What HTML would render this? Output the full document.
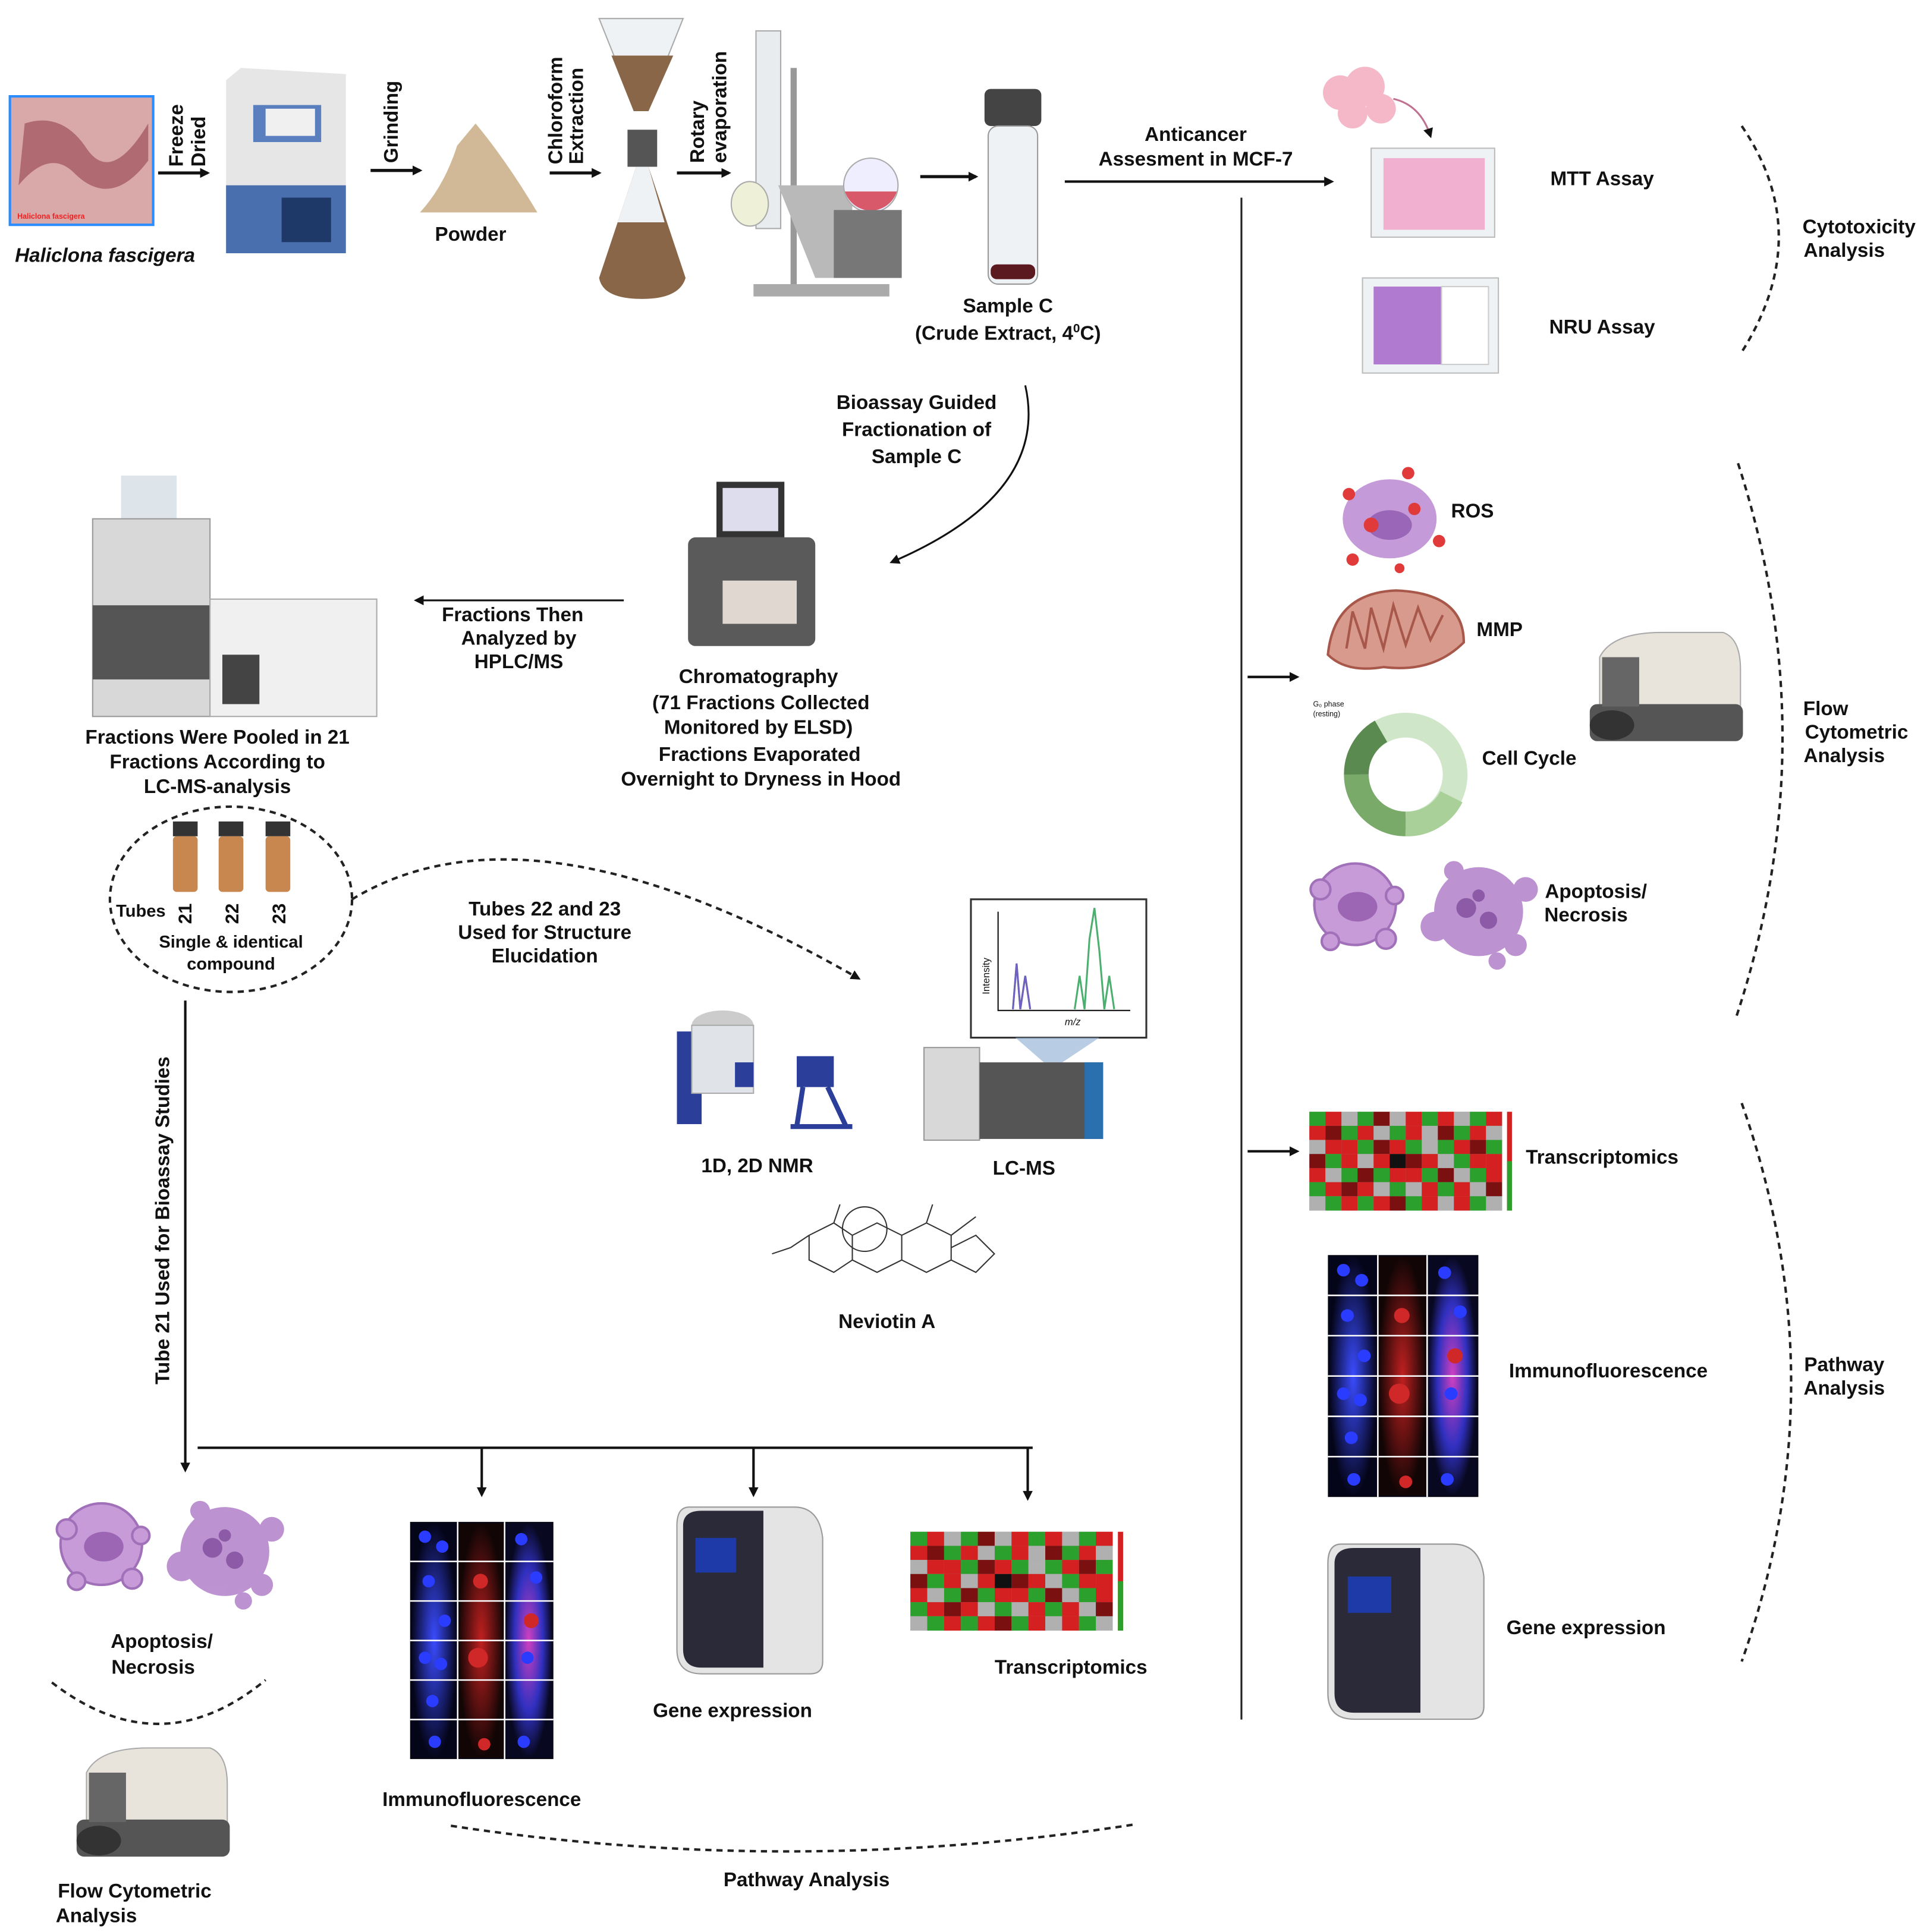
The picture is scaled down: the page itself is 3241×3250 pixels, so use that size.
<!DOCTYPE html>
<html><head><meta charset="utf-8"><style>
html,body{margin:0;padding:0;background:#fff;}
svg{display:block;}
text{font-family:"Liberation Sans",sans-serif;font-weight:bold;font-size:16px;fill:#111;}
</style></head><body>
<svg width="3241" height="3250" viewBox="0 0 1560 1564" preserveAspectRatio="none" xmlns="http://www.w3.org/2000/svg">
<defs>
<marker id="ah" markerWidth="8" markerHeight="8" refX="6" refY="4" orient="auto" markerUnits="userSpaceOnUse"><path d="M0,0 L8,4 L0,8 Z" fill="#111"/></marker>
<g id="heat">
<rect x="0" y="0" width="156" height="80" fill="#999"/>
<g id="hr1"><rect x="0" y="0" width="13" height="11.4" fill="#2ca02c"/><rect x="13" y="0" width="13" height="11.4" fill="#d42020"/><rect x="26" y="0" width="13" height="11.4" fill="#b0b0b0"/><rect x="39" y="0" width="13" height="11.4" fill="#2ca02c"/><rect x="52" y="0" width="13" height="11.4" fill="#7a1010"/><rect x="65" y="0" width="13" height="11.4" fill="#b0b0b0"/><rect x="78" y="0" width="13" height="11.4" fill="#d42020"/><rect x="91" y="0" width="13" height="11.4" fill="#2ca02c"/><rect x="104" y="0" width="13" height="11.4" fill="#d42020"/><rect x="117" y="0" width="13" height="11.4" fill="#b0b0b0"/><rect x="130" y="0" width="13" height="11.4" fill="#2ca02c"/><rect x="143" y="0" width="13" height="11.4" fill="#d42020"/></g>
<g transform="translate(0,11.4)"><rect x="0" width="13" height="11.4" fill="#d42020"/><rect x="13" width="13" height="11.4" fill="#7a1010"/><rect x="26" width="13" height="11.4" fill="#2ca02c"/><rect x="39" width="13" height="11.4" fill="#d42020"/><rect x="52" width="13" height="11.4" fill="#b0b0b0"/><rect x="65" width="13" height="11.4" fill="#2ca02c"/><rect x="78" width="13" height="11.4" fill="#d42020"/><rect x="91" width="13" height="11.4" fill="#b0b0b0"/><rect x="104" width="13" height="11.4" fill="#7a1010"/><rect x="117" width="13" height="11.4" fill="#2ca02c"/><rect x="130" width="13" height="11.4" fill="#d42020"/><rect x="143" width="13" height="11.4" fill="#b0b0b0"/></g>
<g transform="translate(0,22.8)"><rect x="0" width="13" height="11.4" fill="#b0b0b0"/><rect x="13" width="13" height="11.4" fill="#d42020"/><rect x="26" width="13" height="11.4" fill="#d42020"/><rect x="39" width="13" height="11.4" fill="#2ca02c"/><rect x="52" width="13" height="11.4" fill="#7a1010"/><rect x="65" width="13" height="11.4" fill="#d42020"/><rect x="78" width="13" height="11.4" fill="#2ca02c"/><rect x="91" width="13" height="11.4" fill="#b0b0b0"/><rect x="104" width="13" height="11.4" fill="#2ca02c"/><rect x="117" width="13" height="11.4" fill="#d42020"/><rect x="130" width="13" height="11.4" fill="#7a1010"/><rect x="143" width="13" height="11.4" fill="#2ca02c"/></g>
<g transform="translate(0,34.2)"><rect x="0" width="13" height="11.4" fill="#7a1010"/><rect x="13" width="13" height="11.4" fill="#2ca02c"/><rect x="26" width="13" height="11.4" fill="#d42020"/><rect x="39" width="13" height="11.4" fill="#b0b0b0"/><rect x="52" width="13" height="11.4" fill="#d42020"/><rect x="65" width="13" height="11.4" fill="#111"/><rect x="78" width="13" height="11.4" fill="#7a1010"/><rect x="91" width="13" height="11.4" fill="#d42020"/><rect x="104" width="13" height="11.4" fill="#b0b0b0"/><rect x="117" width="13" height="11.4" fill="#2ca02c"/><rect x="130" width="13" height="11.4" fill="#d42020"/><rect x="143" width="13" height="11.4" fill="#d42020"/></g>
<g transform="translate(0,45.6)"><rect x="0" width="13" height="11.4" fill="#d42020"/><rect x="13" width="13" height="11.4" fill="#b0b0b0"/><rect x="26" width="13" height="11.4" fill="#2ca02c"/><rect x="39" width="13" height="11.4" fill="#7a1010"/><rect x="52" width="13" height="11.4" fill="#2ca02c"/><rect x="65" width="13" height="11.4" fill="#d42020"/><rect x="78" width="13" height="11.4" fill="#d42020"/><rect x="91" width="13" height="11.4" fill="#2ca02c"/><rect x="104" width="13" height="11.4" fill="#7a1010"/><rect x="117" width="13" height="11.4" fill="#b0b0b0"/><rect x="130" width="13" height="11.4" fill="#2ca02c"/><rect x="143" width="13" height="11.4" fill="#d42020"/></g>
<g transform="translate(0,57)"><rect x="0" width="13" height="11.4" fill="#2ca02c"/><rect x="13" width="13" height="11.4" fill="#d42020"/><rect x="26" width="13" height="11.4" fill="#7a1010"/><rect x="39" width="13" height="11.4" fill="#d42020"/><rect x="52" width="13" height="11.4" fill="#b0b0b0"/><rect x="65" width="13" height="11.4" fill="#2ca02c"/><rect x="78" width="13" height="11.4" fill="#b0b0b0"/><rect x="91" width="13" height="11.4" fill="#d42020"/><rect x="104" width="13" height="11.4" fill="#2ca02c"/><rect x="117" width="13" height="11.4" fill="#d42020"/><rect x="130" width="13" height="11.4" fill="#b0b0b0"/><rect x="143" width="13" height="11.4" fill="#7a1010"/></g>
<g transform="translate(0,68.4)"><rect x="0" width="13" height="11.6" fill="#b0b0b0"/><rect x="13" width="13" height="11.6" fill="#2ca02c"/><rect x="26" width="13" height="11.6" fill="#d42020"/><rect x="39" width="13" height="11.6" fill="#2ca02c"/><rect x="52" width="13" height="11.6" fill="#d42020"/><rect x="65" width="13" height="11.6" fill="#7a1010"/><rect x="78" width="13" height="11.6" fill="#2ca02c"/><rect x="91" width="13" height="11.6" fill="#d42020"/><rect x="104" width="13" height="11.6" fill="#b0b0b0"/><rect x="117" width="13" height="11.6" fill="#d42020"/><rect x="130" width="13" height="11.6" fill="#2ca02c"/><rect x="143" width="13" height="11.6" fill="#b0b0b0"/></g>
<rect x="160" y="0" width="4" height="80" fill="#d42020"/><rect x="160" y="40" width="4" height="40" fill="#2ca02c"/>
</g>
<radialGradient id="bl"><stop offset="0" stop-color="#3a4cff"/><stop offset="1" stop-color="#05051a"/></radialGradient>
<radialGradient id="rd"><stop offset="0" stop-color="#c02020"/><stop offset="1" stop-color="#120505"/></radialGradient>
<radialGradient id="mg"><stop offset="0" stop-color="#d040c0"/><stop offset="0.6" stop-color="#3030c0"/><stop offset="1" stop-color="#080820"/></radialGradient>
<g id="immuno">
<rect x="0" y="0" width="116" height="192" fill="#070714"/>
<rect x="1" y="1" width="37" height="190" fill="url(#bl)"/>
<rect x="39" y="1" width="37" height="190" fill="url(#rd)"/>
<rect x="77" y="1" width="38" height="190" fill="url(#mg)"/>
<g stroke="#fff" stroke-width="1.2"><line x1="0" y1="32" x2="116" y2="32"/><line x1="0" y1="64" x2="116" y2="64"/><line x1="0" y1="96" x2="116" y2="96"/><line x1="0" y1="128" x2="116" y2="128"/><line x1="0" y1="160" x2="116" y2="160"/><line x1="38.5" y1="0" x2="38.5" y2="192"/><line x1="76.5" y1="0" x2="76.5" y2="192"/></g>
<g fill="#2a3cff"><circle cx="12" cy="12" r="5"/><circle cx="26" cy="20" r="5"/><circle cx="15" cy="48" r="5"/><circle cx="28" cy="80" r="5"/><circle cx="12" cy="110" r="5"/><circle cx="25" cy="115" r="5"/><circle cx="18" cy="145" r="5"/><circle cx="20" cy="178" r="5"/><circle cx="90" cy="14" r="5"/><circle cx="102" cy="45" r="5"/><circle cx="95" cy="110" r="5"/><circle cx="92" cy="178" r="5"/></g>
<g fill="#d02828"><circle cx="57" cy="48" r="6"/><circle cx="55" cy="110" r="8"/><circle cx="60" cy="180" r="5"/><circle cx="98" cy="80" r="6"/></g>
</g>
<g id="gene">
<path d="M10,0 L95,0 Q115,0 118,25 L118,125 Q118,135 108,135 L20,135 Q0,135 0,115 L0,15 Q0,0 10,0 Z" fill="#e4e4e4" stroke="#999"/>
<path d="M5,15 Q5,3 20,3 L70,3 L70,130 L20,130 Q5,130 5,115 Z" fill="#2a2a38"/>
<rect x="15" y="25" width="33" height="28" fill="#1d3aa8"/>
</g>
<g id="flowc">
<path d="M10,20 Q20,0 60,0 L110,0 Q124,5 124,30 L124,75 L10,75 Z" fill="#e8e4dc" stroke="#aaa"/>
<rect x="2" y="58" width="124" height="30" rx="6" fill="#555"/>
<rect x="12" y="20" width="30" height="40" fill="#666"/>
<ellipse cx="20" cy="75" rx="18" ry="12" fill="#333"/>
</g>
<g id="apop">
<g fill="#c79ad8" stroke="#a070b8" stroke-width="2"><circle cx="40" cy="42" r="33"/><circle cx="12" cy="30" r="8"/><circle cx="65" cy="70" r="8"/><circle cx="20" cy="72" r="7"/><circle cx="72" cy="35" r="7"/></g>
<ellipse cx="42" cy="44" rx="16" ry="12" fill="#9c66b4"/>
<g fill="#b687cc" opacity="0.9"><circle cx="140" cy="48" r="36"/><circle cx="105" cy="60" r="12"/><circle cx="178" cy="30" r="10"/><circle cx="170" cy="75" r="9"/><circle cx="120" cy="15" r="8"/><circle cx="155" cy="88" r="7"/></g>
<g fill="#8c5aa6"><circle cx="130" cy="45" r="8"/><circle cx="148" cy="55" r="7"/><circle cx="140" cy="35" r="5"/></g>
</g>
</defs>

<!-- Top row -->
<rect x="8" y="78" width="116" height="104" fill="#d9a8a8" stroke="#2a8cff" stroke-width="2"/>
<path d="M20,100 Q50,90 70,120 Q90,150 120,100 L120,130 Q90,170 60,140 Q40,120 15,150 Z" fill="#b06a72"/>
<text x="14" y="177" style="font-size:6px;fill:#e22">Haliclona fascigera</text>
<text x="85" y="212" text-anchor="middle" style="font-style:italic">Haliclona fascigera</text>
<line x1="128" y1="140" x2="168" y2="140" stroke="#111" stroke-width="2.5" marker-end="url(#ah)"/>
<text transform="translate(148,135) rotate(-90)">Freeze</text>
<text transform="translate(166,135) rotate(-90)">Dried</text>
<path d="M183,65 L195,55 L280,60 L280,205 L190,205 L183,195 Z" fill="#e6e6e6"/>
<rect x="183" y="150" width="97" height="55" fill="#4a6fae"/>
<rect x="205" y="85" width="55" height="30" fill="#5a7fbf"/><rect x="215" y="88" width="40" height="22" fill="#f0f0f0"/>
<rect x="228" y="160" width="40" height="36" fill="#1e3868"/>
<line x1="300" y1="138" x2="340" y2="138" stroke="#111" stroke-width="2.5" marker-end="url(#ah)"/>
<text transform="translate(322,132) rotate(-90)">Grinding</text>
<path d="M340,172 Q360,150 370,118 L385,100 Q410,130 435,172 Z" fill="#d1b896"/>
<text x="381" y="195" text-anchor="middle">Powder</text>
<line x1="445" y1="140" x2="485" y2="140" stroke="#111" stroke-width="2.5" marker-end="url(#ah)"/>
<text transform="translate(455,133) rotate(-90)">Chloroform</text>
<text transform="translate(472,133) rotate(-90)">Extraction</text>
<path d="M485,15 L553,15 L525,85 L513,85 Z" fill="#eef2f4" stroke="#aaa"/>
<path d="M495,45 L545,45 L525,90 L513,90 Z" fill="#8a6648"/>
<rect x="508" y="105" width="24" height="30" fill="#555"/>
<path d="M515,135 L525,135 L555,225 Q550,242 520,242 Q488,242 485,225 Z" fill="#8a6648"/>
<path d="M515,135 L525,135 L538,180 L500,180 Z" fill="#eef2f4"/>
<line x1="548" y1="140" x2="590" y2="140" stroke="#111" stroke-width="2.5" marker-end="url(#ah)"/>
<text transform="translate(570,132) rotate(-90)">Rotary</text>
<text transform="translate(588,132) rotate(-90)">evaporation</text>
<rect x="612" y="25" width="20" height="160" fill="#e8ecee" stroke="#aaa"/>
<rect x="640" y="55" width="5" height="180" fill="#999"/>
<path d="M630,150 L690,150 L690,225 L660,225 Z" fill="#b9b9b9"/>
<circle cx="705" cy="150" r="22" fill="#eef" stroke="#aaa"/><path d="M684,155 A22,22 0 0 0 726,155 Z" fill="#d85a6a"/>
<rect x="675" y="170" width="55" height="55" fill="#777"/>
<ellipse cx="607" cy="165" rx="15" ry="18" fill="#eef0d8" stroke="#aaa"/>
<rect x="610" y="230" width="110" height="10" fill="#aaa"/>
<line x1="745" y1="143" x2="790" y2="143" stroke="#111" stroke-width="2.5" marker-end="url(#ah)"/>
<rect x="797" y="72" width="46" height="30" rx="5" fill="#444"/>
<rect x="800" y="102" width="40" height="128" rx="8" fill="#eef2f5" stroke="#999"/>
<rect x="802" y="214" width="36" height="12" rx="5" fill="#5a1a20"/>
<text x="816" y="253" text-anchor="middle">Sample C</text>
<text x="816" y="275" text-anchor="middle">(Crude Extract, 4<tspan dy="-6" style="font-size:10px">0</tspan><tspan dy="6">C)</tspan></text>
<text x="968" y="114" text-anchor="middle">Anticancer</text>
<text x="968" y="134" text-anchor="middle">Assesment in MCF-7</text>
<line x1="862" y1="147" x2="1078" y2="147" stroke="#111" stroke-width="2" marker-end="url(#ah)"/>
<line x1="1005" y1="160" x2="1005" y2="1392" stroke="#222" stroke-width="1.5"/>

<!-- cytotox -->
<g fill="#f5b8c8"><circle cx="1085" cy="75" r="14"/><circle cx="1105" cy="70" r="16"/><circle cx="1118" cy="88" r="12"/><circle cx="1095" cy="92" r="12"/></g>
<path d="M1128,80 Q1150,85 1158,110" fill="none" stroke="#c07090" stroke-width="1.5" marker-end="url(#ah)"/>
<rect x="1110" y="120" width="100" height="72" fill="#eef2f4" stroke="#bbb"/>
<rect x="1120" y="128" width="82" height="58" fill="#f2b0d0"/>
<rect x="1103" y="225" width="110" height="77" fill="#eef2f4" stroke="#bbb"/>
<rect x="1112" y="232" width="55" height="63" fill="#b07ad0"/><rect x="1167" y="232" width="38" height="63" fill="#ffffff" stroke="#ccc"/>
<text x="1297" y="150" text-anchor="middle">MTT Assay</text>
<text x="1297" y="270" text-anchor="middle">NRU Assay</text>
<path d="M1410,102 Q1470,190 1410,285" fill="none" stroke="#222" stroke-width="2" stroke-dasharray="5,4"/>
<text x="1505" y="189" text-anchor="middle">Cytotoxicity</text>
<text x="1493" y="208" text-anchor="middle">Analysis</text>

<!-- bioassay -->
<text x="742" y="331" text-anchor="middle">Bioassay Guided</text>
<text x="742" y="353" text-anchor="middle">Fractionation of</text>
<text x="742" y="375" text-anchor="middle">Sample C</text>
<path d="M830,312 Q850,400 722,455" fill="none" stroke="#111" stroke-width="1.5" marker-end="url(#ah)"/>
<rect x="580" y="390" width="55" height="45" fill="#333"/><rect x="585" y="395" width="45" height="35" fill="#dde"/>
<rect x="557" y="435" width="103" height="88" rx="6" fill="#5a5a5a"/>
<rect x="585" y="470" width="60" height="35" fill="#e0d8d0"/>
<text x="614" y="553" text-anchor="middle">Chromatography</text>
<text x="616" y="574" text-anchor="middle">(71 Fractions Collected</text>
<text x="614" y="594" text-anchor="middle">Monitored by ELSD)</text>
<text x="615" y="616" text-anchor="middle">Fractions Evaporated</text>
<text x="616" y="636" text-anchor="middle">Overnight to Dryness in Hood</text>
<line x1="505" y1="486" x2="337" y2="486" stroke="#111" stroke-width="1.5" marker-end="url(#ah)"/>
<text x="415" y="503" text-anchor="middle">Fractions Then</text>
<text x="420" y="522" text-anchor="middle">Analyzed by</text>
<text x="420" y="541" text-anchor="middle">HPLC/MS</text>
<!-- HPLC -->
<rect x="98" y="385" width="45" height="35" fill="#dde4ea"/>
<rect x="75" y="420" width="95" height="160" fill="#d8d8d8" stroke="#999"/>
<rect x="75" y="490" width="95" height="60" fill="#555"/>
<rect x="170" y="485" width="135" height="95" fill="#f0f0f0" stroke="#aaa"/>
<rect x="180" y="530" width="30" height="40" fill="#444"/>
<text x="176" y="602" text-anchor="middle">Fractions Were Pooled in 21</text>
<text x="176" y="622" text-anchor="middle">Fractions According to</text>
<text x="176" y="642" text-anchor="middle">LC-MS-analysis</text>
<ellipse cx="187" cy="728" rx="98" ry="75" fill="none" stroke="#222" stroke-width="2" stroke-dasharray="5,4"/>
<g><rect x="140" y="665" width="20" height="12" fill="#333"/><rect x="140" y="677" width="20" height="45" rx="3" fill="#c8874e"/>
<rect x="177" y="665" width="20" height="12" fill="#333"/><rect x="177" y="677" width="20" height="45" rx="3" fill="#c8874e"/>
<rect x="215" y="665" width="20" height="12" fill="#333"/><rect x="215" y="677" width="20" height="45" rx="3" fill="#c8874e"/></g>
<text x="114" y="742" text-anchor="middle" style="font-size:14px">Tubes</text>
<text transform="translate(155,748) rotate(-90)" style="font-size:15px">21</text>
<text transform="translate(193,748) rotate(-90)" style="font-size:15px">22</text>
<text transform="translate(231,748) rotate(-90)" style="font-size:15px">23</text>
<text x="187" y="767" text-anchor="middle" style="font-size:14px">Single &amp; identical</text>
<text x="187" y="785" text-anchor="middle" style="font-size:14px">compound</text>
<path d="M285,728 Q430,640 695,792" fill="none" stroke="#222" stroke-width="2" stroke-dasharray="5,4" marker-end="url(#ah)"/>
<text x="441" y="741" text-anchor="middle">Tubes 22 and 23</text>
<text x="441" y="760" text-anchor="middle">Used for Structure</text>
<text x="441" y="779" text-anchor="middle">Elucidation</text>
<!-- NMR -->
<rect x="548" y="835" width="20" height="75" fill="#2a3e9a"/>
<ellipse cx="585" cy="830" rx="25" ry="12" fill="#ccc"/>
<rect x="560" y="830" width="50" height="55" fill="#e0e4e8" stroke="#aaa"/>
<rect x="595" y="860" width="15" height="20" fill="#2a3e9a"/>
<rect x="645" y="855" width="30" height="25" fill="#2a3e9a"/>
<path d="M650,880 L645,912 M670,880 L685,912 M640,912 L690,912" stroke="#2a3e9a" stroke-width="4" fill="none"/>
<text x="613" y="949" text-anchor="middle">1D, 2D NMR</text>
<!-- LC-MS -->
<rect x="786" y="728" width="142" height="112" fill="#fff" stroke="#333" stroke-width="1.5"/>
<path d="M808,738 L808,818 L915,818" fill="none" stroke="#111" stroke-width="1"/>
<path d="M820,817 L823,780 L826,817 L830,790 L834,817 M870,817 L874,790 L878,817 L882,760 L886,735 L890,770 L894,817 L898,790 L902,817" fill="none" stroke="#4caf70" stroke-width="1.5"/>
<path d="M820,817 L823,780 L826,817 L830,790 L834,817" fill="none" stroke="#7060c0" stroke-width="1.5"/>
<text transform="translate(801,805) rotate(-90)" style="font-size:8px;font-weight:normal">Intensity</text>
<text x="862" y="830" style="font-size:8px;font-style:italic;font-weight:normal">m/z</text>
<path d="M822,840 L890,840 L860,860 L845,860 Z" fill="#9ab8d8" opacity="0.7"/>
<rect x="748" y="848" width="45" height="75" fill="#d8d8d8" stroke="#999"/>
<rect x="793" y="860" width="100" height="62" fill="#555"/>
<rect x="878" y="860" width="15" height="62" fill="#2a6fae"/>
<text x="829" y="951" text-anchor="middle">LC-MS</text>
<!-- structure -->
<g fill="none" stroke="#333" stroke-width="1">
<path d="M655,1000 L675,990 L690,1000 L690,1020 L675,1030 L655,1020 Z M690,1000 L710,990 L730,1000 L730,1020 L710,1030 L690,1020 M730,1000 L750,990 L770,1000 L770,1020 L750,1030 L730,1020 M770,1010 L790,1000 L805,1015 L790,1030 L770,1020 M640,1010 L655,1000 M625,1015 L640,1010 M675,990 L680,975 M750,990 L755,975 M770,1000 L790,985"/>
<circle cx="700" cy="995" r="18"/>
</g>
<text x="718" y="1075" text-anchor="middle">Neviotin A</text>

<!-- Tube 21 branch -->
<line x1="150" y1="810" x2="150" y2="1190" stroke="#111" stroke-width="2" marker-end="url(#ah)"/>
<text transform="translate(137,988) rotate(-90)" text-anchor="middle">Tube 21 Used for Bioassay Studies</text>
<line x1="160" y1="1172" x2="836" y2="1172" stroke="#111" stroke-width="2"/>
<line x1="390" y1="1172" x2="390" y2="1210" stroke="#111" stroke-width="2" marker-end="url(#ah)"/>
<line x1="610" y1="1172" x2="610" y2="1210" stroke="#111" stroke-width="2" marker-end="url(#ah)"/>
<line x1="832" y1="1172" x2="832" y2="1213" stroke="#111" stroke-width="2" marker-end="url(#ah)"/>
<use href="#apop" transform="translate(42,1208)"/>
<text x="131" y="1334" text-anchor="middle">Apoptosis/</text>
<text x="124" y="1355" text-anchor="middle">Necrosis</text>
<path d="M42,1362 Q130,1430 215,1360" fill="none" stroke="#222" stroke-width="2" stroke-dasharray="5,4"/>
<use href="#flowc" transform="translate(60,1415)"/>
<text x="109" y="1536" text-anchor="middle">Flow Cytometric</text>
<text x="78" y="1556" text-anchor="middle">Analysis</text>
<use href="#immuno" transform="translate(332,1232)"/>
<text x="390" y="1462" text-anchor="middle">Immunofluorescence</text>
<use href="#gene" transform="translate(548,1220)"/>
<text x="593" y="1390" text-anchor="middle">Gene expression</text>
<use href="#heat" transform="translate(737,1240) scale(1.05,1.0)"/>
<text x="867" y="1355" text-anchor="middle">Transcriptomics</text>
<path d="M365,1478 Q640,1520 918,1477" fill="none" stroke="#222" stroke-width="2" stroke-dasharray="5,4"/>
<text x="653" y="1527" text-anchor="middle">Pathway Analysis</text>

<!-- Flow cytometric right -->
<g fill="#c49ad8"><ellipse cx="1125" cy="420" rx="38" ry="32"/></g>
<ellipse cx="1125" cy="425" rx="18" ry="12" fill="#9a66b8"/>
<g fill="#e03a3a"><circle cx="1092" cy="400" r="5"/><circle cx="1140" cy="383" r="5"/><circle cx="1165" cy="438" r="5"/><circle cx="1095" cy="453" r="5"/><circle cx="1133" cy="460" r="4"/><circle cx="1110" cy="425" r="6"/><circle cx="1145" cy="412" r="5"/></g>
<text x="1192" y="419" text-anchor="middle">ROS</text>
<path d="M1075,530 Q1080,480 1130,478 Q1185,480 1185,520 Q1160,545 1120,540 Q1090,545 1075,530 Z" fill="#d89a8c" stroke="#a8584a" stroke-width="2"/>
<path d="M1090,525 L1095,495 L1105,525 L1110,492 L1120,525 L1128,490 L1138,522 L1148,492 L1158,518 L1168,498" fill="none" stroke="#a8584a" stroke-width="2"/>
<text x="1214" y="515" text-anchor="middle">MMP</text>
<line x1="1010" y1="548" x2="1050" y2="548" stroke="#111" stroke-width="2" marker-end="url(#ah)"/>
<circle cx="1138" cy="627" r="40" fill="none" stroke="#cfe6c8" stroke-width="20"/>
<path d="M1098,627 A40,40 0 0 1 1118,592" fill="none" stroke="#5a8a50" stroke-width="20"/>
<path d="M1098,627 A40,40 0 0 0 1138,667" fill="none" stroke="#7aaa6a" stroke-width="20"/>
<path d="M1138,667 A40,40 0 0 0 1175,645" fill="none" stroke="#a8d098" stroke-width="20"/>
<text x="1063" y="572" style="font-size:6px;font-weight:normal">G₀ phase</text>
<text x="1063" y="580" style="font-size:6px;font-weight:normal">(resting)</text>
<text x="1238" y="619" text-anchor="middle">Cell Cycle</text>
<use href="#flowc" transform="translate(1285,512)"/>
<use href="#apop" transform="translate(1057,690)"/>
<text x="1292" y="727" text-anchor="middle">Apoptosis/</text>
<text x="1284" y="746" text-anchor="middle">Necrosis</text>
<path d="M1407,375 Q1480,600 1405,825" fill="none" stroke="#222" stroke-width="2" stroke-dasharray="5,4"/>
<text x="1478" y="579" text-anchor="middle">Flow</text>
<text x="1503" y="598" text-anchor="middle">Cytometric</text>
<text x="1493" y="617" text-anchor="middle">Analysis</text>

<!-- Pathway right -->
<line x1="1010" y1="932" x2="1050" y2="932" stroke="#111" stroke-width="2" marker-end="url(#ah)"/>
<use href="#heat" transform="translate(1060,900)"/>
<text x="1297" y="942" text-anchor="middle">Transcriptomics</text>
<use href="#immuno" transform="translate(1075,1016) scale(1.05,1.02)"/>
<text x="1302" y="1115" text-anchor="middle">Immunofluorescence</text>
<use href="#gene" transform="translate(1075,1250) scale(1.07,1.05)"/>
<text x="1284" y="1323" text-anchor="middle">Gene expression</text>
<path d="M1410,893 Q1490,1120 1410,1345" fill="none" stroke="#222" stroke-width="2" stroke-dasharray="5,4"/>
<text x="1493" y="1110" text-anchor="middle">Pathway</text>
<text x="1493" y="1129" text-anchor="middle">Analysis</text>
</svg>
</body></html>
